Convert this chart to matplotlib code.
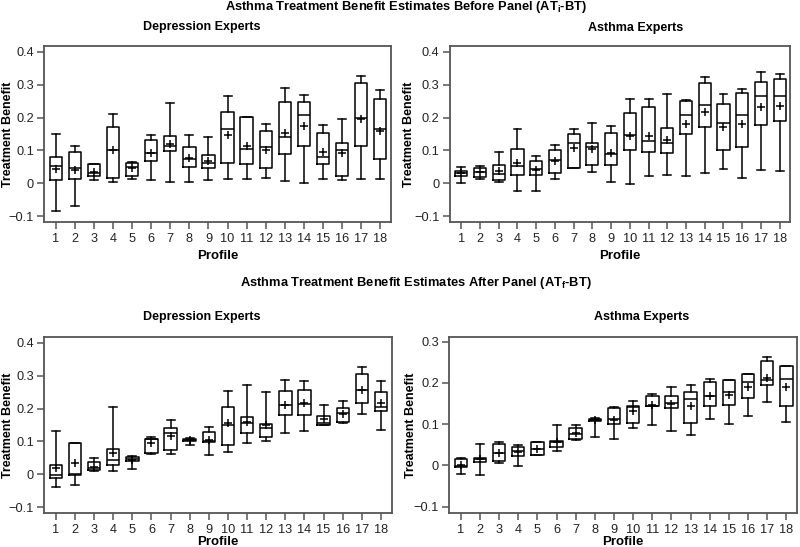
import numpy as np
import matplotlib
matplotlib.use("Agg")
import matplotlib.pyplot as plt

plt.rcParams["font.family"] = ["Liberation Sans", "DejaVu Sans"]
plt.rcParams["mathtext.fontset"] = "custom"
plt.rcParams["mathtext.rm"] = "Liberation Sans:bold"
plt.rcParams["mathtext.bf"] = "Liberation Sans:bold"

# ===========================
# data
# ===========================

profiles = list(range(1, 19))

# Before panel - Depression experts
bd_lo = [-0.083, -0.070, 0.009, 0.004, 0.014, 0.009, 0.005, 0.005, 0.009, 0.012, 0.012, 0.015, 0.006, 0.002, 0.012, 0.009, 0.012, 0.012]
bd_q1 = [0.009, 0.014, 0.022, 0.017, 0.022, 0.067, 0.098, 0.049, 0.047, 0.062, 0.058, 0.045, 0.088, 0.115, 0.058, 0.022, 0.115, 0.075]
bd_med = [0.054, 0.048, 0.032, 0.100, 0.051, 0.092, 0.112, 0.075, 0.061, 0.165, 0.105, 0.111, 0.141, 0.207, 0.081, 0.100, 0.198, 0.165]
bd_q3 = [0.081, 0.094, 0.058, 0.172, 0.062, 0.133, 0.144, 0.111, 0.085, 0.217, 0.202, 0.159, 0.249, 0.246, 0.154, 0.124, 0.304, 0.258]
bd_hi = [0.150, 0.114, 0.059, 0.210, 0.064, 0.148, 0.243, 0.146, 0.141, 0.266, 0.203, 0.180, 0.290, 0.269, 0.177, 0.195, 0.327, 0.283]
bd_mean = [0.044, 0.041, 0.035, 0.100, 0.046, 0.091, 0.119, 0.077, 0.068, 0.148, 0.113, 0.102, 0.152, 0.175, 0.094, 0.091, 0.195, 0.159]

# Before panel - Asthma experts
ba_lo = [0.000, 0.014, 0.003, -0.022, -0.022, 0.014, 0.047, 0.035, 0.003, -0.001, 0.022, 0.025, 0.022, 0.032, 0.042, 0.017, 0.040, 0.037]
ba_q1 = [0.022, 0.018, 0.009, 0.024, 0.024, 0.030, 0.047, 0.056, 0.056, 0.100, 0.095, 0.093, 0.150, 0.172, 0.100, 0.110, 0.177, 0.191]
ba_med = [0.031, 0.033, 0.027, 0.054, 0.042, 0.071, 0.122, 0.109, 0.089, 0.148, 0.129, 0.124, 0.208, 0.239, 0.185, 0.207, 0.266, 0.266]
ba_q3 = [0.037, 0.048, 0.056, 0.105, 0.068, 0.100, 0.149, 0.124, 0.152, 0.215, 0.231, 0.167, 0.252, 0.304, 0.240, 0.274, 0.307, 0.317]
ba_hi = [0.051, 0.052, 0.096, 0.164, 0.083, 0.117, 0.164, 0.185, 0.175, 0.256, 0.256, 0.273, 0.255, 0.324, 0.273, 0.287, 0.339, 0.334]
ba_mean = [0.030, 0.033, 0.036, 0.063, 0.041, 0.069, 0.108, 0.104, 0.092, 0.145, 0.144, 0.133, 0.182, 0.218, 0.172, 0.182, 0.233, 0.236]

# After panel - Depression experts
ad_lo = [-0.039, -0.031, 0.009, 0.009, 0.015, 0.062, 0.062, 0.089, 0.059, 0.067, 0.094, 0.100, 0.126, 0.133, 0.150, 0.155, 0.183, 0.135]
ad_q1 = [-0.011, -0.002, 0.013, 0.030, 0.042, 0.065, 0.075, 0.100, 0.098, 0.089, 0.126, 0.113, 0.179, 0.181, 0.150, 0.158, 0.216, 0.193]
ad_med = [-0.003, 0.001, 0.019, 0.045, 0.048, 0.106, 0.127, 0.104, 0.101, 0.151, 0.155, 0.142, 0.211, 0.214, 0.157, 0.185, 0.256, 0.206]
ad_q3 = [0.030, 0.095, 0.039, 0.078, 0.053, 0.108, 0.141, 0.108, 0.128, 0.204, 0.173, 0.153, 0.254, 0.257, 0.178, 0.201, 0.306, 0.251]
ad_hi = [0.133, 0.095, 0.050, 0.204, 0.055, 0.115, 0.166, 0.111, 0.144, 0.254, 0.272, 0.249, 0.287, 0.282, 0.210, 0.224, 0.325, 0.282]
ad_mean = [0.019, 0.035, 0.022, 0.064, 0.045, 0.095, 0.116, 0.104, 0.104, 0.155, 0.160, 0.150, 0.211, 0.217, 0.168, 0.182, 0.256, 0.218]

# After panel - Asthma experts
aa_lo = [-0.020, -0.024, 0.006, -0.001, 0.026, 0.036, 0.062, 0.070, 0.064, 0.091, 0.097, 0.084, 0.075, 0.113, 0.101, 0.119, 0.153, 0.105]
aa_q1 = [-0.003, 0.008, 0.011, 0.022, 0.026, 0.046, 0.065, 0.107, 0.100, 0.104, 0.143, 0.139, 0.102, 0.145, 0.147, 0.164, 0.195, 0.144]
aa_med = [-0.001, 0.015, 0.030, 0.035, 0.041, 0.058, 0.077, 0.110, 0.113, 0.142, 0.144, 0.152, 0.162, 0.169, 0.177, 0.202, 0.206, 0.209]
aa_q3 = [0.016, 0.019, 0.052, 0.044, 0.056, 0.060, 0.091, 0.113, 0.140, 0.144, 0.168, 0.169, 0.177, 0.202, 0.206, 0.222, 0.254, 0.242]
aa_hi = [0.019, 0.053, 0.056, 0.049, 0.056, 0.099, 0.099, 0.115, 0.142, 0.157, 0.174, 0.190, 0.194, 0.209, 0.206, 0.222, 0.262, 0.242]
aa_mean = [0.002, 0.015, 0.031, 0.032, 0.041, 0.056, 0.079, 0.110, 0.110, 0.131, 0.147, 0.149, 0.144, 0.168, 0.170, 0.190, 0.211, 0.191]


def make_stats(lo, q1, med, q3, hi, mean):
    stats = []
    for i in range(len(lo)):
        stats.append(dict(whislo=lo[i], q1=q1[i], med=med[i], q3=q3[i],
                          whishi=hi[i], mean=mean[i], fliers=[]))
    return stats


ticks_a = [-0.1, 0, 0.1, 0.2, 0.3, 0.4]
ticks_b = [-0.1, 0, 0.1, 0.2, 0.3]

# stats, axes rect, yticks, ylim, ylabel x, xlabel y (axes coords)
panels = [
    (make_stats(bd_lo, bd_q1, bd_med, bd_q3, bd_hi, bd_mean), [0.0554, 0.5947, 0.433, 0.3212], ticks_a, (-0.117, 0.418), -0.088, -0.160),
    (make_stats(ba_lo, ba_q1, ba_med, ba_q3, ba_hi, ba_mean), [0.5625, 0.5947, 0.425, 0.3212], ticks_a, (-0.117, 0.418), -0.104, -0.160),
    (make_stats(ad_lo, ad_q1, ad_med, ad_q3, ad_hi, ad_mean), [0.0554, 0.0622, 0.434, 0.3223], ticks_a, (-0.117, 0.418), -0.088, -0.132),
    (make_stats(aa_lo, aa_q1, aa_med, aa_q3, aa_hi, aa_mean), [0.5616, 0.0622, 0.4346, 0.3223], ticks_b, (-0.115, 0.312), -0.094, -0.132),
]

# ===========================
# plot
# ===========================

fig = plt.figure(figsize=(8, 5.47), dpi=100)

frame_color = "#555555"
line_kw = dict(color="black", linewidth=1.1)

for stats, pos, yticks, ylim, ylab_x, xlab_y in panels:
    ax = fig.add_axes(pos)
    ax.bxp(stats, positions=profiles, widths=0.65, capwidths=0.42,
           showmeans=True, showfliers=False,
           boxprops=line_kw, whiskerprops=line_kw, capprops=line_kw,
           medianprops=line_kw,
           meanprops=dict(marker="+", markeredgecolor="black",
                          markersize=6, markeredgewidth=1.1))
    ax.set_xlim(0.4, 18.55)
    ax.set_ylim(*ylim)
    ax.set_yticks(yticks)
    ax.set_yticklabels(["0" if t == 0 else f"{t:g}".replace("-", "\u2212") for t in yticks])
    ax.set_xticks(profiles)
    ax.set_xticklabels([str(p) for p in profiles])
    ax.tick_params(axis="both", labelsize=9.2, length=5, width=1.1,
                   color=frame_color, labelcolor="#222222")
    ax.tick_params(axis="x", pad=3)
    ax.tick_params(axis="y", pad=2.5)
    for sp in ax.spines.values():
        sp.set_color(frame_color)
        sp.set_linewidth(1.3)
    ax.set_xlabel("Profile", fontsize=9.5, fontweight="bold")
    ax.set_ylabel("Treatment Benefit", fontsize=9, fontweight="bold")
    ax.xaxis.set_label_coords(0.5, xlab_y)
    ax.yaxis.set_label_coords(ylab_x, 0.5)

fig.text(0.508, 0.988, r"Asthma Treatment Benefit Estimates Before Panel (AT$_\mathrm{i}$-BT)",
         ha="center", va="center", fontsize=9.3, fontweight="bold")
fig.text(0.52, 0.482, r"Asthma Treatment Benefit Estimates After Panel (AT$_\mathrm{f}$-BT)",
         ha="center", va="center", fontsize=9.3, fontweight="bold")

fig.text(0.252, 0.951, "Depression Experts", ha="center", va="center", fontsize=9, fontweight="bold")
fig.text(0.794, 0.948, "Asthma Experts", ha="center", va="center", fontsize=9, fontweight="bold")
fig.text(0.252, 0.420, "Depression Experts", ha="center", va="center", fontsize=9, fontweight="bold")
fig.text(0.802, 0.420, "Asthma Experts", ha="center", va="center", fontsize=9, fontweight="bold")

fig.savefig("out.png", dpi=100)
